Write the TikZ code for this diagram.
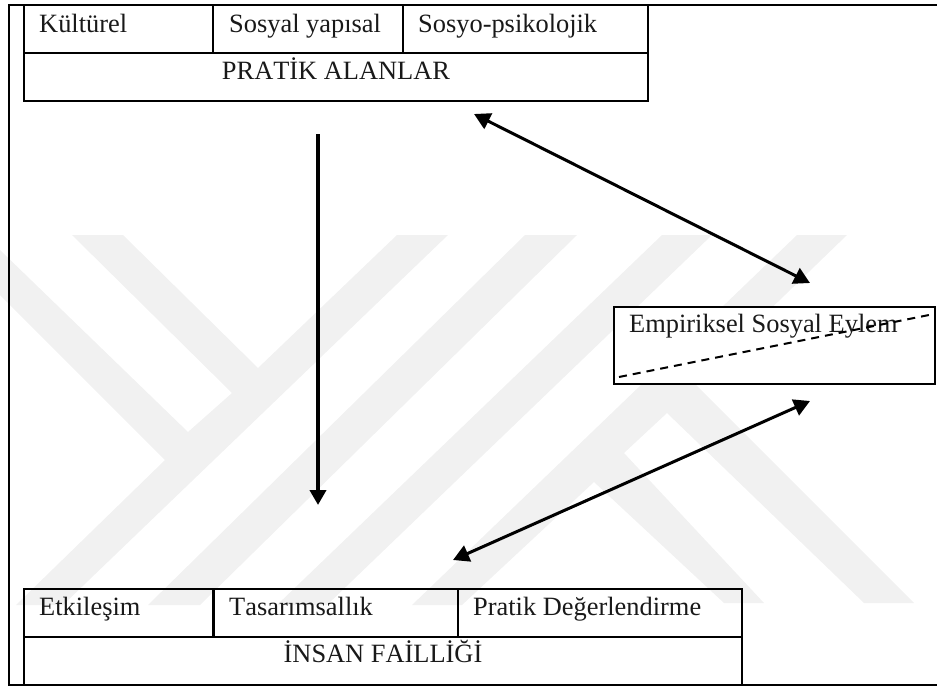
\documentclass[tikz,border=0pt]{standalone}
\usepackage{fontspec}
\setmainfont[Kerning=Off]{Liberation Serif}
\usetikzlibrary{arrows.meta}
\definecolor{wmgray}{HTML}{F1F1F1}
\tikzset{
  wmark/.style={fill=wmgray,draw=none},
  frameline/.style={line width=2.6pt,line cap=butt},
  cellbox/.style={line width=2.3pt,draw=black},
  celltext/.style={anchor=base west,inner sep=0pt,font=\fontsize{26.4pt}{30pt}\selectfont,text=black!90},
  titletext/.style={anchor=base,inner sep=0pt,font=\fontsize{26.4pt}{30pt}\selectfont,text=black!90},
  flow/.style={line width=3pt,{Triangle[width=17pt,length=16pt]}-{Triangle[width=17pt,length=16pt]}},
  downflow/.style={line width=4pt,-{Triangle[width=16pt,length=15pt]}},
  splitline/.style={line width=2pt,dash pattern=on 8pt off 6pt}
}
\begin{document}
\begin{tikzpicture}[x=1pt,y=-1pt]
\useasboundingbox (0,0) rectangle (937,686);
% watermark
\fill[wmark] (397,235) -- (448,235) -- (63,605) -- (16,605) -- (165,460) -- (0,295) -- (0,250) -- (188,432) -- (232,393) -- (72,235) -- (123,235) -- (258,368) -- cycle;
\fill[wmark] (525,235) -- (577,235) -- (200,605) -- (148,605) -- cycle;
\fill[wmark] (662,235) -- (712,235) -- (327,605) -- (277,605) -- cycle;
\fill[wmark] (797,235) -- (847,235) -- (694,383) -- (914,603) -- (864,603) -- (667,413) -- (624,453) -- (764,603) -- (724,603) -- (594,482) -- (462,605) -- (412,605) -- cycle;
% outer frame
\draw[frameline] (937,5) -- (9,5) -- (9,685) -- (937,685);
% top table
\draw[cellbox] (24,5) rectangle (648,101);
\draw[cellbox] (24,53) -- (648,53);
\draw[cellbox] (213,5) -- (213,53);
\draw[cellbox] (403,5) -- (403,53);
\node[celltext] (kulturel) at (39,32) {Kültürel};
\node[celltext] (sosyal) at (229,32) {Sosyal yapısal};
\node[celltext] (psiko) at (418,32) {Sosyo-psikolojik};
\node[titletext] (pratik) at (336,79) {PRATİK ALANLAR};
% bottom table
\draw[cellbox] (24,589) rectangle (742,685);
\draw[cellbox] (24,637) -- (742,637);
\draw[cellbox] (213.5,589) -- (213.5,637);
\draw[cellbox] (458,589) -- (458,637);
\node[celltext] (etki) at (39,615) {Etkileşim};
\node[celltext] (tasarim) at (229,615) {Tasarımsallık};
\node[celltext] (deger) at (473,615) {Pratik Değerlendirme};
\node[titletext] (insan) at (383,662) {İNSAN FAİLLİĞİ};
% empirical box
\draw[cellbox,fill=white] (614,307) rectangle (935,384);
\node[celltext] (empirik) at (629,332) {Empiriksel Sosyal Eylem};
\coordinate (dashA) at (619,377);
\coordinate (dashB) at (929,315);
\draw[splitline] (dashA) -- (dashB);
% arrows
\coordinate (downA) at (318,134);
\coordinate (downB) at (318,505);
\draw[downflow] (downA) -- (downB);
\coordinate (upperA) at (474,114);
\coordinate (upperB) at (810,283);
\draw[flow] (upperA) -- (upperB);
\coordinate (lowerA) at (453,560);
\coordinate (lowerB) at (810,401);
\draw[flow] (lowerA) -- (lowerB);
\end{tikzpicture}
\end{document}
